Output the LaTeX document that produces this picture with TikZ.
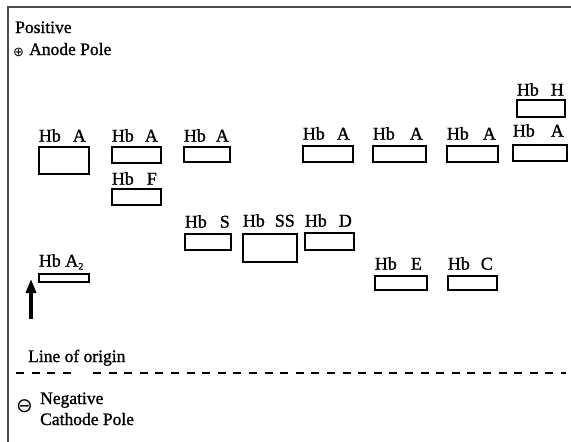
\documentclass[tikz,border=0pt]{standalone}
\usepackage{fontspec}
\setmainfont{Liberation Serif}
\newfontfamily\labelfont{Liberation Serif}[FakeBold=1.2]
\newfontfamily\dejavu{DejaVu Sans}
\usetikzlibrary{arrows.meta}
\tikzset{
  band/.style={draw=black, line width=1.7pt, inner sep=0pt, fill=white},
  hblabel/.style={inner sep=0pt, font=\fontsize{18}{20}\selectfont\labelfont, anchor=base west},
  txt/.style={inner sep=0pt, font=\fontsize{17.5}{20}\selectfont\labelfont, anchor=base west},
  frame/.style={draw=black!70, line width=2pt},
  origin/.style={line width=2pt, dash pattern=on 8pt off 7.6pt},
}
% \hbband{name}{cx}{cy}{w}{h}{gap}{labelwidth}{left}{right}
\newcommand\hbband[9]{%
  \node[band, minimum width=#4pt, minimum height=#5pt] (#1) at (#2,#3) {};
  \node[hblabel] (#1-l) at ([xshift=0.5pt,yshift=#6pt]#1.north west) {\hbox to #7pt{#8\hfil #9}};
}
\begin{document}
\begin{tikzpicture}[x=1pt,y=-1pt]
\useasboundingbox (0,0) rectangle (571,442);
\fill[white] (0,0) rectangle (571,442);
% frame
\coordinate (fl) at (8,442);
\coordinate (ftl) at (8,7);
\coordinate (fr) at (571,7);
\draw[frame] (fl) -- (ftl) -- (fr);
% poles
\node[txt] (pos) at (15,33) {Positive};
\node[inner sep=0pt, anchor=base west, font=\fontsize{13}{13}\selectfont\dejavu] (plus) at (13,56) {⊕};
\node[txt] (anode) at (29,55) {Anode Pole};
% bands
\hbband{a1}{64}{160.5}{50}{27}{4.5}{47}{Hb}{A}
\hbband{a2}{136.5}{155}{49}{16}{4.5}{46}{Hb}{A}
\hbband{a3}{207}{154.5}{46}{15}{4.5}{45}{Hb}{A}
\hbband{a4}{328}{154}{50}{16}{5.5}{47}{Hb}{A}
\hbband{a5}{399.5}{154}{53}{16}{5.5}{50}{Hb}{A}
\hbband{a6}{472.5}{154}{51}{16}{5.5}{49}{Hb}{A}
\hbband{a7}{540}{153}{54}{16}{7.5}{51}{Hb}{A}
\hbband{h}{541}{108.5}{48}{17}{3.5}{47}{Hb}{H}
\hbband{f}{136.5}{197}{49}{16}{3.5}{45}{Hb}{F}
\hbband{s}{208}{242}{46}{16}{5.5}{45}{Hb}{S}
\hbband{ss}{270}{248}{54}{28}{6.5}{52}{Hb}{SS}
\hbband{d}{329.5}{241.5}{49}{17}{5.5}{47}{Hb}{D}
\hbband{e}{401}{283}{52}{14}{5.5}{47}{Hb}{E}
\hbband{c}{472.5}{283}{49}{14}{5.5}{45}{Hb}{C}
\node[band, minimum width=50pt, minimum height=8pt] (atwo) at (64,278) {};
\node[hblabel] (atwo-l) at ([xshift=0.5pt,yshift=6.5pt]atwo.north west) {Hb A\raisebox{-3pt}{\fontsize{10}{10}\selectfont 2}};
% arrow
\coordinate (arrS) at (31,319);
\coordinate (arrE) at (31,279);
\draw[line width=3.2pt, -{Triangle[length=14pt,width=10pt]}] (arrS) -- (arrE);
% line of origin
\node[txt] (lo) at (28,362) {Line of origin};
\coordinate (d1) at (16,373);
\coordinate (d2) at (72,373);
\coordinate (d3) at (93,373);
\coordinate (d4) at (566,373);
\draw[origin] (d1) -- (d2);
\draw[origin] (d3) -- (d4);
% negative
\node[inner sep=0pt, anchor=base west, font=\fontsize{20}{20}\selectfont\dejavu] (minus) at (16,412) {⊖};
\node[txt] (neg) at (40,404) {Negative};
\node[txt] (cath) at (40,425) {Cathode Pole};
\end{tikzpicture}
\end{document}
